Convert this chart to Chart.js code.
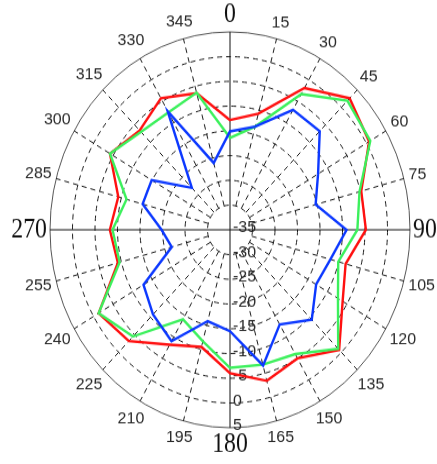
<!DOCTYPE html>
<html>
<head>
<meta charset="utf-8">
<script src="https://cdn.jsdelivr.net/npm/chart.js@4.4.1/dist/chart.umd.min.js"></script>
<style>
  html, body { margin: 0; padding: 0; background: #fff; }
  #polar { display: block; }
</style>
</head>
<body>
<!-- the reference plot is an ellipse (taller than wide): draw round, show stretched -->
<canvas id="polar" width="437" height="422" style="width:437px;height:464px"></canvas>
<script>
  // angle categories (degrees, clockwise from top)
  const angleLabels = ["0", "15", "30", "45", "60", "75", "90", "105", "120", "135", "150", "165",
                       "180", "195", "210", "225", "240", "255", "270", "285", "300", "315", "330", "345"];
  // radial ticks, centre -> edge
  const radialTicks = [-35, -30, -25, -20, -15, -10, -5, 0, 5];

  const redSeries   = [-12.8, -10.7, -1.9, 2.6, 0.7, -4.8, -4.8, -8.4, -6.1, -0.7, -5.0, -3.4,
                       -6.0, -10.5, -8.2, -3.2, -1.3, -9.2, -8.3, -9.3, -4.2, -6.6, -4.3, -6.4];
  const greenSeries = [-16.4, -13.4, -3.3, 1.9, 1.0, -5.2, -6.7, -10.1, -7.3, -1.0, -6.0, -6.8,
                       -7.1, -11.7, -14.1, -4.5, -1.3, -9.6, -8.9, -11.2, -4.2, -7.0, -7.6, -6.3];
  const blueSeries  = [-15.1, -13.4, -7.0, -6.8, -12.4, -15.3, -9.1, -11.9, -12.9, -9.3, -12.9, -6.6,
                       -14.5, -15.9, -9.0, -10.8, -12.8, -21.6, -19.8, -14.9, -14.9, -23.0, -7.3, -21.0];

  const STRETCH = 464 / 422;
  const rMin = radialTicks[0];
  const rMax = radialTicks[radialTicks.length - 1];
  const DASH = [5, 4];

  // text drawn un-stretched (undo the css stretch)
  function drawText(ctx, str, x, y, font, color, align, sx) {
    ctx.save();
    ctx.translate(x, y);
    ctx.scale(sx || 1, 1 / STRETCH);
    ctx.font = font;
    ctx.fillStyle = color;
    ctx.textAlign = align;
    ctx.textBaseline = "middle";
    ctx.fillText(str, 0, 0);
    ctx.restore();
  }

  const polarExtras = {
    id: "polarExtras",
    beforeDatasetsDraw(chart) {
      const ctx = chart.ctx;
      const r = chart.scales.r;

      // dashed spokes, from the first ring out to the rim
      const d0 = r.getDistanceFromCenterForValue(radialTicks[1]);
      const d1 = r.getDistanceFromCenterForValue(rMax);
      ctx.save();
      ctx.strokeStyle = "#1a1a1a";
      ctx.lineWidth = 1;
      ctx.setLineDash(DASH);
      angleLabels.forEach((lab, i) => {
        if (i % 6 === 0) return;
        const a = r.getPointPosition(i, d0);
        const b = r.getPointPosition(i, d1);
        ctx.beginPath();
        ctx.moveTo(a.x, a.y);
        ctx.lineTo(b.x, b.y);
        ctx.stroke();
      });
      ctx.restore();

      // tick labels down the 180 axis
      radialTicks.forEach((v) => {
        const d = r.getDistanceFromCenterForValue(v);
        drawText(ctx, String(v), r.xCenter + 3, r.yCenter + d - 2 / STRETCH,
          '16px "Liberation Sans"', "#2a2a2a", "left");
      });

      // angle labels round the rim
      angleLabels.forEach((lab, i) => {
        const big = i % 6 === 0;
        const font = big ? '28px "Liberation Serif"' : '16px "Liberation Sans"';
        const sx = big ? 0.85 : 1;
        ctx.save();
        ctx.font = font;
        const w = ctx.measureText(lab).width * sx;
        ctx.restore();
        const hh = (big ? 9 : 5.8) / STRETCH;
        const a = i * 15 * Math.PI / 180;
        const pad = 3 + 4.5 * Math.abs(Math.cos(a));
        const extra = Math.abs(Math.sin(a)) * w / 2 + Math.abs(Math.cos(a)) * hh;
        const p = r.getPointPosition(i, r.drawingArea + pad + extra);
        drawText(ctx, lab, p.x, p.y, font, big ? "#111" : "#2a2a2a", "center", sx);
      });
    }
  };

  new Chart(document.getElementById("polar"), {
    type: "radar",
    data: {
      labels: angleLabels,
      datasets: [
        { label: "red", data: redSeries, borderColor: "#ff1010", order: 3 },
        { label: "green", data: greenSeries, borderColor: "#3cf05c", order: 2 },
        { label: "blue", data: blueSeries, borderColor: "#0c38ff", order: 1 }
      ]
    },
    options: {
      responsive: false,
      animation: false,
      layout: { padding: { left: 50, right: 27, top: 29, bottom: 33 } },
      elements: {
        line: { borderWidth: 2.4, tension: 0, fill: false },
        point: { radius: 0, hoverRadius: 0 }
      },
      plugins: { legend: { display: false }, tooltip: { enabled: false } },
      scales: {
        r: {
          min: rMin,
          max: rMax,
          ticks: { stepSize: 5, display: false },
          pointLabels: { display: false },
          grid: {
            circular: true,
            lineWidth: 1,
            color: (c) => (c.tick && c.tick.value === rMax ? "#555" : "#1a1a1a")
          },
          border: {
            dash: (c) => (c.tick && c.tick.value === rMax ? [] : DASH)
          },
          // only the four solid axes come from the library; dashed spokes are drawn above
          angleLines: {
            color: "#111",
            lineWidth: (c) => (c.index % 6 === 0 ? 1 : 0)
          }
        }
      }
    },
    plugins: [polarExtras]
  });
</script>
</body>
</html>
